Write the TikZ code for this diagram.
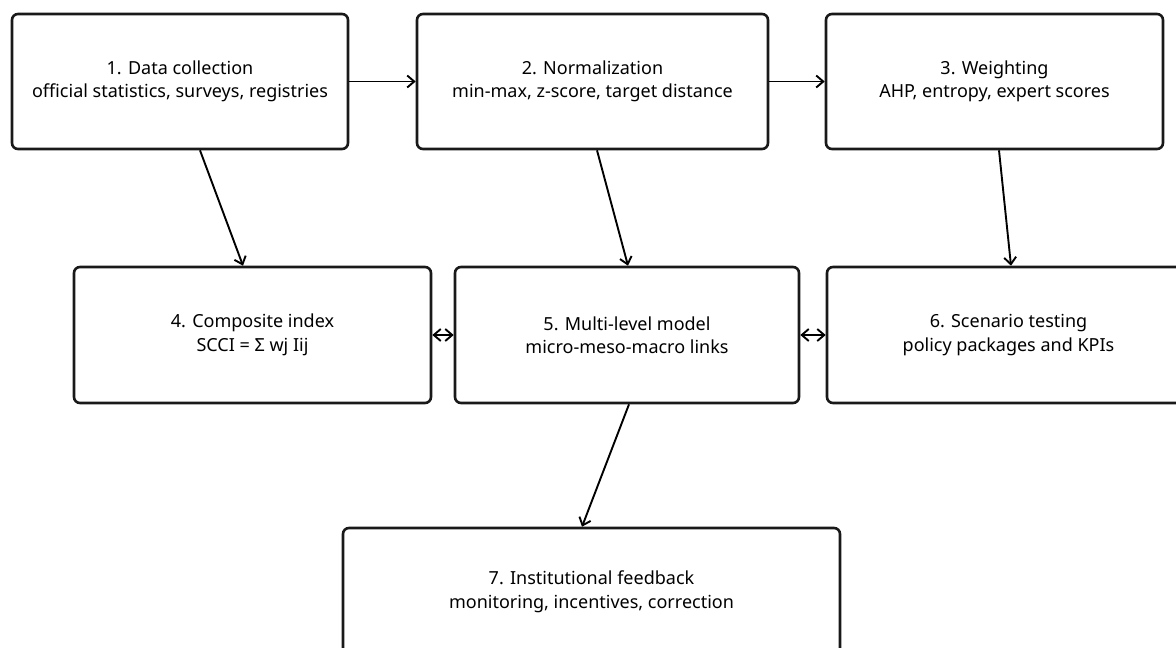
\documentclass[tikz,border=0pt]{standalone}
\usepackage{fontspec}
\setmainfont{Noto Sans}
\usetikzlibrary{arrows.meta}

\begin{document}
\begin{tikzpicture}[x=1pt, y=-1pt, font=\fontsize{18}{23.5}\selectfont,
    box/.style={draw=black!90, line width=2.6pt, rounded corners=6pt, align=center, inner sep=0pt},
    arr/.style={line width=1.9pt, -{Straight Barb[length=7pt, width=12pt]}},
    biarr/.style={line width=1.9pt, {Straight Barb[length=7pt, width=12pt]}-{Straight Barb[length=7pt, width=12pt]}}]
  \useasboundingbox (0,0) rectangle (1176,648);
  \clip (0,0) rectangle (1176,648);
  % ---- top row: collection, normalization, weighting -----------------------
  \node[box, minimum width=336pt, minimum height=135pt] (data) at (180, 81.5)
    {1. Data collection\\official statistics, surveys, registries};
  \node[box, minimum width=351pt, minimum height=135pt] (norm) at (592.5, 81.5)
    {2. Normalization\\min-max, z-score, target distance};
  \node[box, minimum width=337pt, minimum height=135pt] (weight) at (994.5, 81.5)
    {3. Weighting\\AHP, entropy, expert scores};
  % ---- middle row: index, model, scenarios ---------------------------------
  \node[box, minimum width=357pt, minimum height=136pt] (index) at (252.5, 335)
    {4. Composite index\\SCCI = Σ wj Iij};
  \node[box, minimum width=344pt, minimum height=136pt] (model) at (627, 335)
    {5. Multi-level model\\micro-meso-macro links};
  \node[box, minimum width=363pt, minimum height=136pt] (scen) at (1008.5, 335)
    {6. Scenario testing\\policy packages and KPIs};
  % ---- bottom row ----------------------------------------------------------
  \node[box, minimum width=497pt, minimum height=128pt] (feed) at (591.5, 592)
    {7. Institutional feedback\\monitoring, incentives, correction};
  % ---- connectors ----------------------------------------------------------
  \foreach \a/\b in {data/norm, norm/weight} {
    \draw[arr] (\a.east) -- (\b.west);}
  \draw[arr] ([xshift=20pt]data.south) -- ([xshift=-9.5pt]index.north);
  \draw[arr] ([xshift=4.5pt]norm.south) -- ([xshift=1pt]model.north);
  \draw[arr] ([xshift=4.5pt]weight.south) -- ([xshift=2.5pt]scen.north);
  \draw[arr] ([xshift=2pt]model.south) -- ([xshift=-9.5pt]feed.north);
  \foreach \a/\b in {index/model, model/scen} {
    \draw[biarr] (\a.east) -- (\b.west);}
\end{tikzpicture}
\end{document}
